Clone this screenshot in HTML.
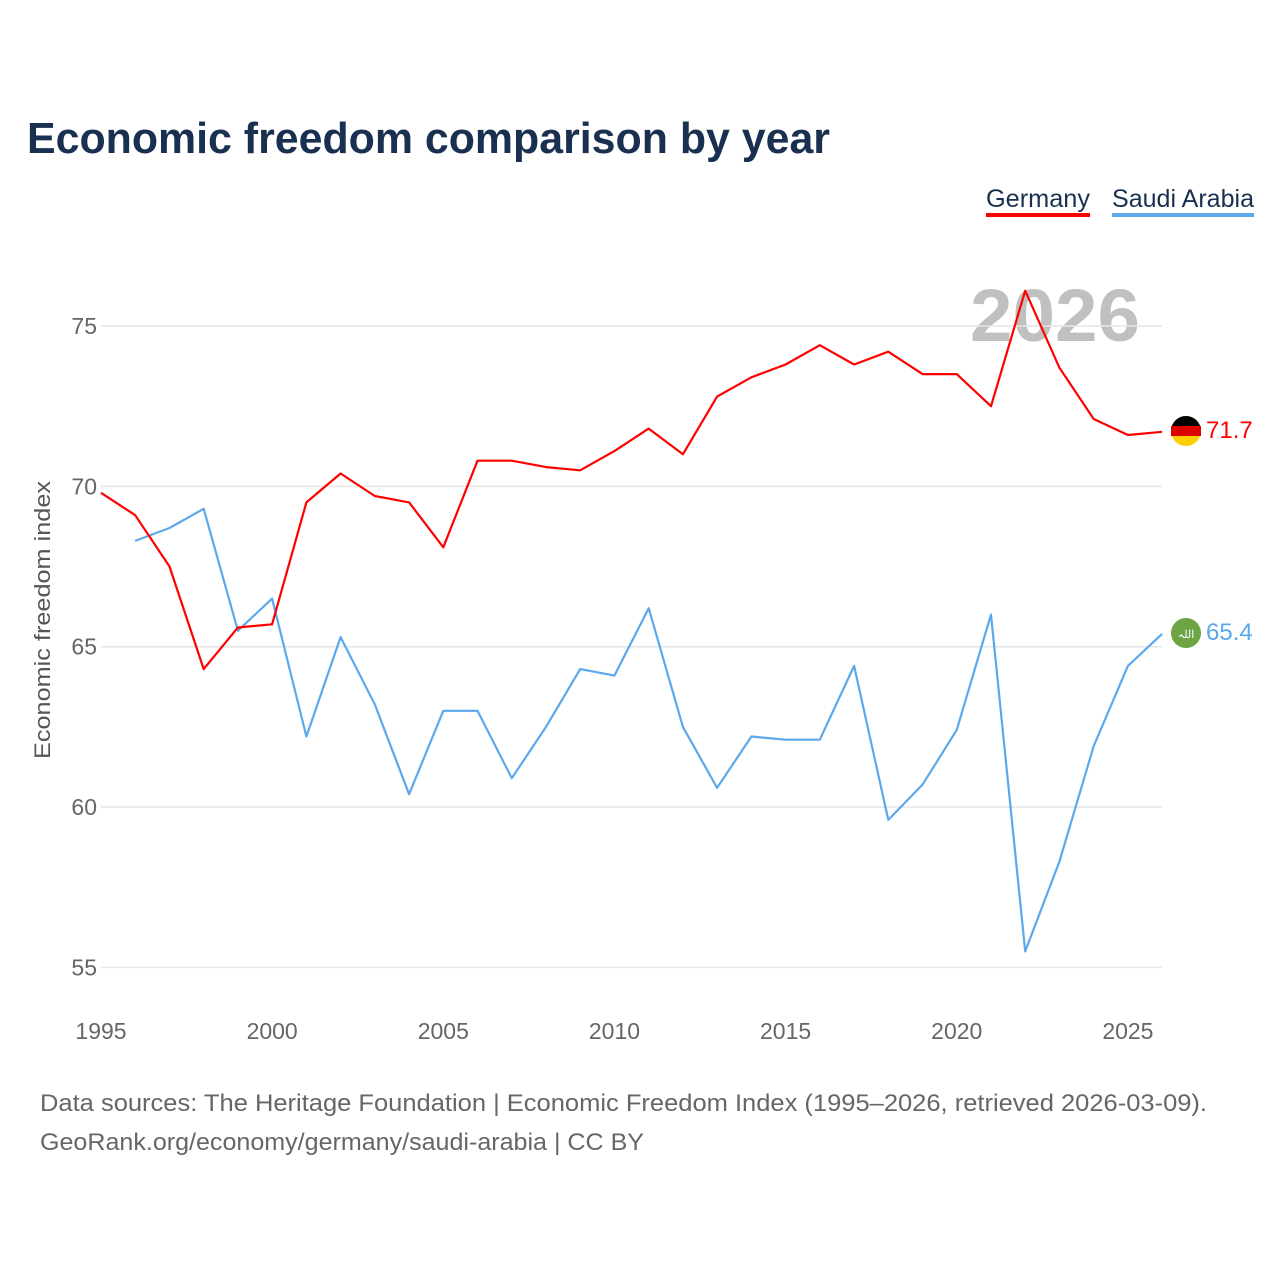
<!DOCTYPE html>
<html><head><meta charset="utf-8"><style>
body{margin:0;background:#fff;font-family:"Liberation Sans",sans-serif}
</style></head><body>
<svg width="1280" height="1280" xmlns="http://www.w3.org/2000/svg">
<text x="27" y="153" font-size="44" font-weight="bold" fill="#1a3050" textLength="803" lengthAdjust="spacingAndGlyphs">Economic freedom comparison by year</text>
<g>
<text x="986" y="207" font-size="25" fill="#1a3050" textLength="104" lengthAdjust="spacingAndGlyphs">Germany</text>
<rect x="986" y="213" width="104" height="4" fill="#ff0000"/>
<text x="1112" y="207" font-size="25" fill="#1a3050" textLength="142" lengthAdjust="spacingAndGlyphs">Saudi Arabia</text>
<rect x="1112" y="213" width="142" height="4" fill="#5ca8ec"/>
</g>
<text x="1140" y="341" font-size="74" font-weight="bold" fill="#c0c0c0" text-anchor="end" textLength="170" lengthAdjust="spacingAndGlyphs">2026</text>
<g id="grid"></g>
<g id="xt"></g>
<text transform="translate(50,620) rotate(-90)" font-size="22" fill="#555" text-anchor="middle" textLength="278" lengthAdjust="spacingAndGlyphs">Economic freedom index</text>
<g id="lines"></g>
<g>
<circle cx="1186" cy="431" r="15" fill="#ffce00"/>
<path d="M1171,431 A15,15 0 0 1 1201,431 Z" fill="#000"/>
<rect x="1171" y="426" width="30" height="10" fill="#dd0000"/>
<text x="1206" y="438" font-size="24" fill="#ff0000">71.7</text>
<circle cx="1186" cy="633" r="15" fill="#6da544"/>
<text x="1186" y="638" font-size="11" fill="#fff" text-anchor="middle">اللہ</text>
<text x="1206" y="640" font-size="24" fill="#5ca8ec">65.4</text>
</g>
<text x="40" y="1111" font-size="24" fill="#666" textLength="1167" lengthAdjust="spacingAndGlyphs">Data sources: The Heritage Foundation | Economic Freedom Index (1995–2026, retrieved 2026-03-09).</text>
<text x="40" y="1150" font-size="24" fill="#666" textLength="604" lengthAdjust="spacingAndGlyphs">GeoRank.org/economy/germany/saudi-arabia | CC BY</text>
</svg>
<script>
const years=[1995,1996,1997,1998,1999,2000,2001,2002,2003,2004,2005,2006,2007,2008,2009,2010,2011,2012,2013,2014,2015,2016,2017,2018,2019,2020,2021,2022,2023,2024,2025,2026];
const germany=[69.8,69.1,67.5,64.3,65.6,65.7,69.5,70.4,69.7,69.5,68.1,70.8,70.8,70.6,70.5,71.1,71.8,71.0,72.8,73.4,73.8,74.4,73.8,74.2,73.5,73.5,72.5,76.1,73.7,72.1,71.6,71.7];
const saudi=[null,68.3,68.7,69.3,65.5,66.5,62.2,65.3,63.2,60.4,63.0,63.0,60.9,62.5,64.3,64.1,66.2,62.5,60.6,62.2,62.1,62.1,64.4,59.6,60.7,62.4,66.0,55.5,58.3,61.9,64.4,65.4];
const yTicks=[55,60,65,70,75];
const xTicks=[1995,2000,2005,2010,2015,2020,2025];
const NS="http://www.w3.org/2000/svg";
const x=v=>101+(v-1995)*34.23;
const y=v=>326+(75-v)*32.07;
const grid=document.getElementById('grid'),xt=document.getElementById('xt'),lines=document.getElementById('lines');
yTicks.forEach(t=>{
 const l=document.createElementNS(NS,'line');
 l.setAttribute('x1',101);l.setAttribute('x2',1162);l.setAttribute('y1',y(t));l.setAttribute('y2',y(t));
 l.setAttribute('stroke','#e6e6e6');l.setAttribute('stroke-width','1.5');
 
 
 grid.appendChild(l);
 const tx=document.createElementNS(NS,'text');
 tx.setAttribute('x',97);tx.setAttribute('y',y(t)+8);tx.setAttribute('text-anchor','end');
 tx.setAttribute('font-size','23');tx.setAttribute('fill','#666');tx.textContent=t;
 
 
 grid.appendChild(tx);
});
xTicks.forEach(t=>{
 const tx=document.createElementNS(NS,'text');
 tx.setAttribute('x',x(t));tx.setAttribute('y',1039);tx.setAttribute('text-anchor','middle');
 tx.setAttribute('font-size','23');tx.setAttribute('fill','#666');tx.textContent=t;
 
 
 xt.appendChild(tx);
});
function draw(vals,color,name){
 const pts=[];vals.forEach((v,i)=>{if(v!=null)pts.push(x(years[i]).toFixed(1)+','+y(v).toFixed(1));});
 const p=document.createElementNS(NS,'polyline');
 p.setAttribute('points',pts.join(' '));p.setAttribute('fill','none');
 p.setAttribute('stroke',color);p.setAttribute('stroke-width','2.2');p.setAttribute('stroke-linejoin','round');
 
 
 lines.appendChild(p);
}
draw(saudi,'#5ca8ec','saudi-arabia-line');
draw(germany,'#ff0000','germany-line');
</script>
</body></html>
